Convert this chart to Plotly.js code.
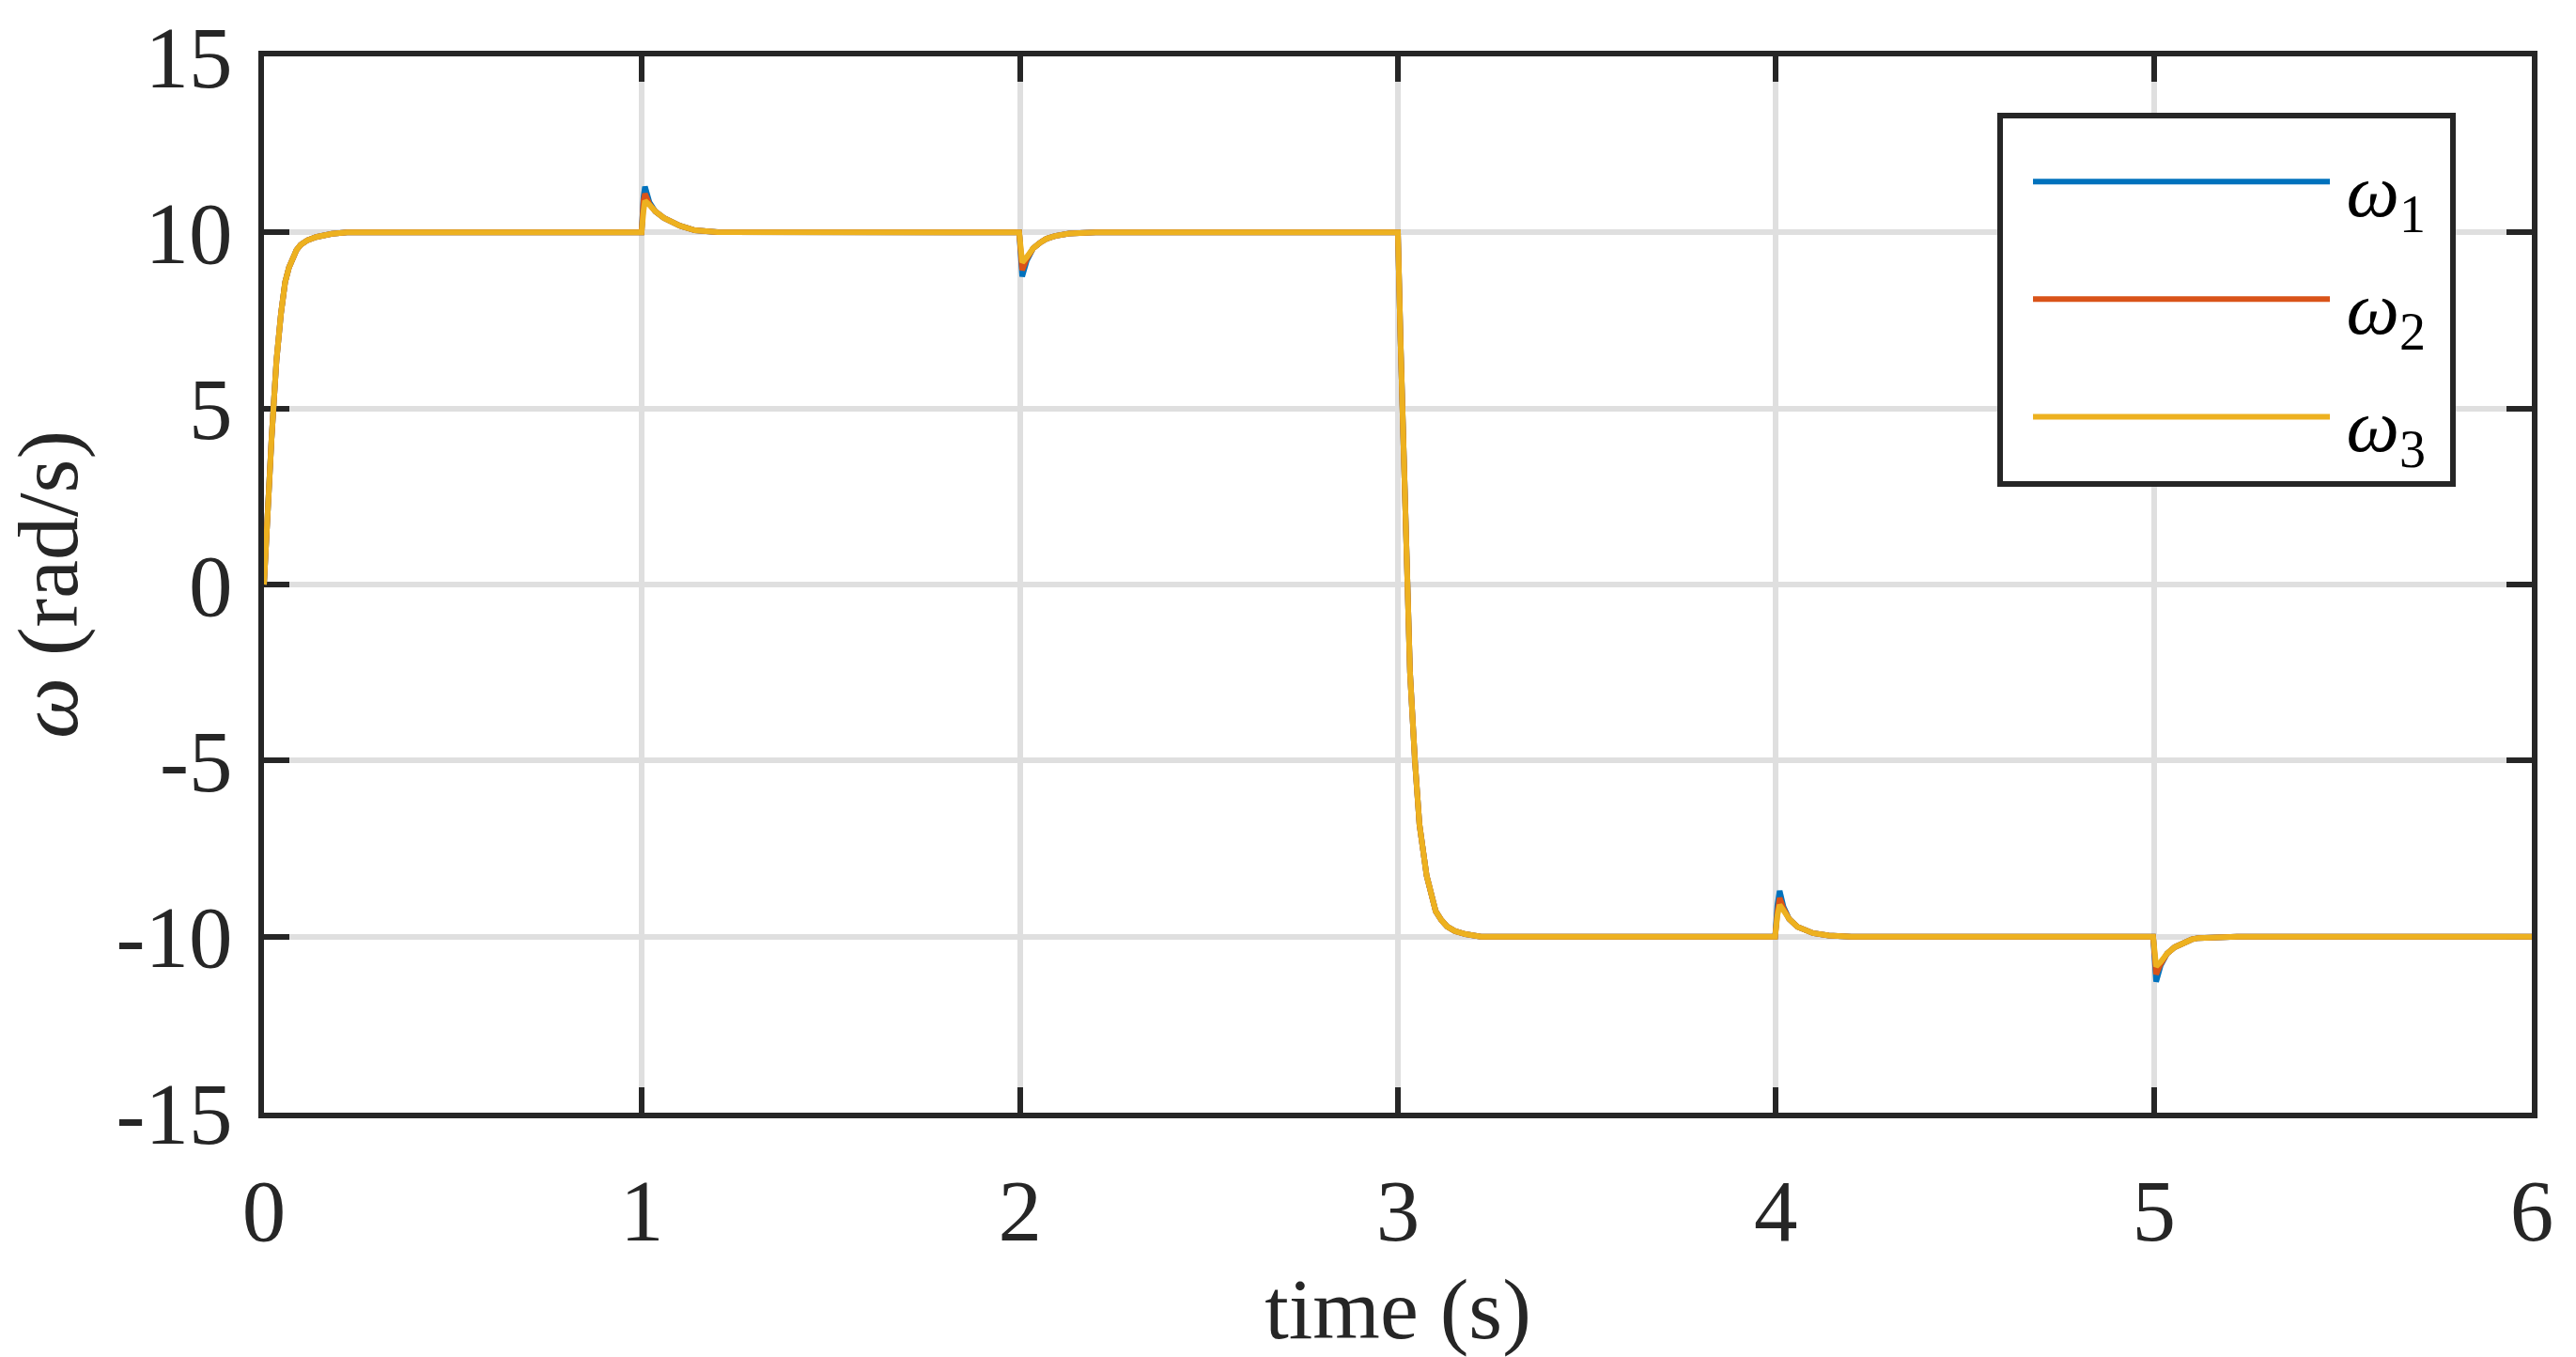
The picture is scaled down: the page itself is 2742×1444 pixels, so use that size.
<!DOCTYPE html>
<html>
<head>
<meta charset="utf-8">
<script src="https://cdn.plot.ly/plotly-3.0.1.min.js"></script>
<style>html,body{margin:0;padding:0;background:#fff;}#chart{width:2742px;height:1444px;}</style>
</head>
<body>
<div id="chart"></div>
<script>
// time samples (s)
const time = [
  0, 0.006, 0.014, 0.02, 0.025, 0.033, 0.045, 0.056, 0.066, 0.076, 0.086, 0.097, 0.115, 0.138, 0.16, 0.18, 0.22,
  0.999, 1.004, 1.008, 1.02, 1.035, 1.058, 1.08, 1.1, 1.14, 1.2,
  1.998, 2.003, 2.006, 2.018, 2.035, 2.052, 2.07, 2.093, 2.13, 2.2,
  3.0, 3.007, 3.012, 3.018, 3.024, 3.032, 3.045, 3.057, 3.076, 3.088, 3.1, 3.115, 3.13, 3.15, 3.179, 3.22,
  3.998, 4.004, 4.01, 4.02, 4.035, 4.057, 4.08, 4.098, 4.14, 4.2,
  4.998, 5.003, 5.006, 5.018, 5.035, 5.055, 5.077, 5.1, 5.118, 5.16, 5.22,
  6.0
];
// omega_1 (rad/s)
const omega1 = [
  0, 1.47, 2.8, 4.14, 5.0, 6.36, 7.70, 8.59, 9.0, 9.30, 9.5, 9.65, 9.78, 9.87, 9.93, 9.96, 10.0,
  10.0, 11.0, 11.3, 10.85, 10.6, 10.41, 10.28, 10.19, 10.06, 10.01,
  10.0, 9.0, 8.75, 9.2, 9.55, 9.70, 9.82, 9.9, 9.97, 10.0,
  10.0, 6.9, 5.0, 2.56, 0, -2.49, -5.0, -6.82, -8.27, -8.85, -9.28, -9.53, -9.71, -9.84, -9.93, -10.0,
  -10.0, -9.1, -8.7, -9.15, -9.5, -9.72, -9.83, -9.9, -9.97, -10.0,
  -10.0, -10.9, -11.28, -10.82, -10.48, -10.3, -10.17, -10.08, -10.04, -10.01, -10.0,
  -10.0
];
// omega_2 (rad/s)
const omega2 = [
  0, 1.47, 2.8, 4.14, 5.0, 6.36, 7.70, 8.59, 9.0, 9.30, 9.5, 9.65, 9.78, 9.87, 9.93, 9.96, 10.0,
  10.0, 10.9, 11.1, 10.8, 10.6, 10.41, 10.28, 10.19, 10.06, 10.01,
  10.0, 9.2, 8.93, 9.25, 9.55, 9.70, 9.82, 9.9, 9.97, 10.0,
  10.0, 6.9, 5.0, 2.56, 0, -2.49, -5.0, -6.82, -8.27, -8.85, -9.28, -9.53, -9.71, -9.84, -9.93, -10.0,
  -10.0, -9.3, -8.9, -9.2, -9.5, -9.72, -9.83, -9.9, -9.97, -10.0,
  -10.0, -10.75, -11.07, -10.78, -10.48, -10.3, -10.17, -10.08, -10.04, -10.01, -10.0,
  -10.0
];
// omega_3 (rad/s)
const omega3 = [
  0, 1.47, 2.8, 4.14, 5.0, 6.36, 7.70, 8.59, 9.0, 9.30, 9.5, 9.65, 9.78, 9.87, 9.93, 9.96, 10.0,
  10.0, 10.6, 10.9, 10.78, 10.6, 10.41, 10.28, 10.19, 10.06, 10.01,
  10.0, 9.4, 9.15, 9.3, 9.55, 9.70, 9.82, 9.9, 9.97, 10.0,
  10.0, 6.9, 5.0, 2.56, 0, -2.49, -5.0, -6.82, -8.27, -8.85, -9.28, -9.53, -9.71, -9.84, -9.93, -10.0,
  -10.0, -9.4, -9.1, -9.25, -9.5, -9.72, -9.83, -9.9, -9.97, -10.0,
  -10.0, -10.6, -10.85, -10.72, -10.48, -10.3, -10.17, -10.08, -10.04, -10.01, -10.0,
  -10.0
];
const seriesSubscripts = ['1', '2', '3'];
const seriesColors = ['#0072BD', '#D95319', '#EDB120'];
const xTickVals = [0, 1, 2, 3, 4, 5, 6];
const xTickText = ['0', '1', '2', '3', '4', '5', '6'];
const yTickVals = [-15, -10, -5, 0, 5, 10, 15];
const yTickText = ['-15', '-10', '-5', '0', '5', '10', '15'];

const serif = 'Liberation Serif, Times New Roman, serif';
const ink = '#262626';
const series = [omega1, omega2, omega3];
const label = s =>
  '<span style="font-size:50px">\u00a0</span>' +
  '<span style="font-size:80px"><i>ω</i><sub>' + s + '</sub></span>' +
  '<span style="font-size:84px">\u00a0</span>';
const traces = series.map((ys, i) => ({
  x: time, y: ys, type: 'scatter', mode: 'lines',
  name: label(seriesSubscripts[i]), legendgroup: 'g' + i,
  line: {color: seriesColors[i], width: 6}
}));

const axisCommon = {
  showline: true, linecolor: ink, linewidth: 6, mirror: 'ticks',
  ticks: 'inside', ticklen: 27, tickwidth: 6, tickcolor: ink,
  showgrid: true, gridcolor: '#dfdfdf', gridwidth: 6, zeroline: false,
  layer: 'below traces',
  tickfont: {family: serif, size: 93, color: ink}
};

const layout = {
  width: 2742, height: 1444,
  margin: {l: 281, r: 47, t: 60, b: 260, pad: 0},
  paper_bgcolor: '#ffffff', plot_bgcolor: '#ffffff',
  showlegend: true,
  xaxis: Object.assign({}, axisCommon, {
    range: [0, 6], tickmode: 'array', tickvals: xTickVals, ticktext: xTickText,
    ticklabelstandoff: 18,
    title: {text: 'time (s)', font: {family: serif, size: 92, color: ink}, standoff: 64}
  }),
  yaxis: Object.assign({}, axisCommon, {
    range: [-15, 15], tickmode: 'array', tickvals: yTickVals, ticktext: yTickText,
    ticklabelstandoff: 9,
    title: {text: '<i>ω</i> (rad/s)', font: {family: serif, size: 92, color: ink}, standoff: 33}
  }),
  legend: {
    x: 0.7643, xanchor: 'left', y: 0.947, yanchor: 'top',
    bgcolor: '#ffffff', bordercolor: ink, borderwidth: 6,
    font: {family: serif, size: 94, color: '#000000'},
    itemwidth: 316, indentation: 27, tracegroupgap: 0, traceorder: 'normal'
  }
};

Plotly.newPlot('chart', traces, layout, {displayModeBar: false, staticPlot: true});
</script>
</body>
</html>
